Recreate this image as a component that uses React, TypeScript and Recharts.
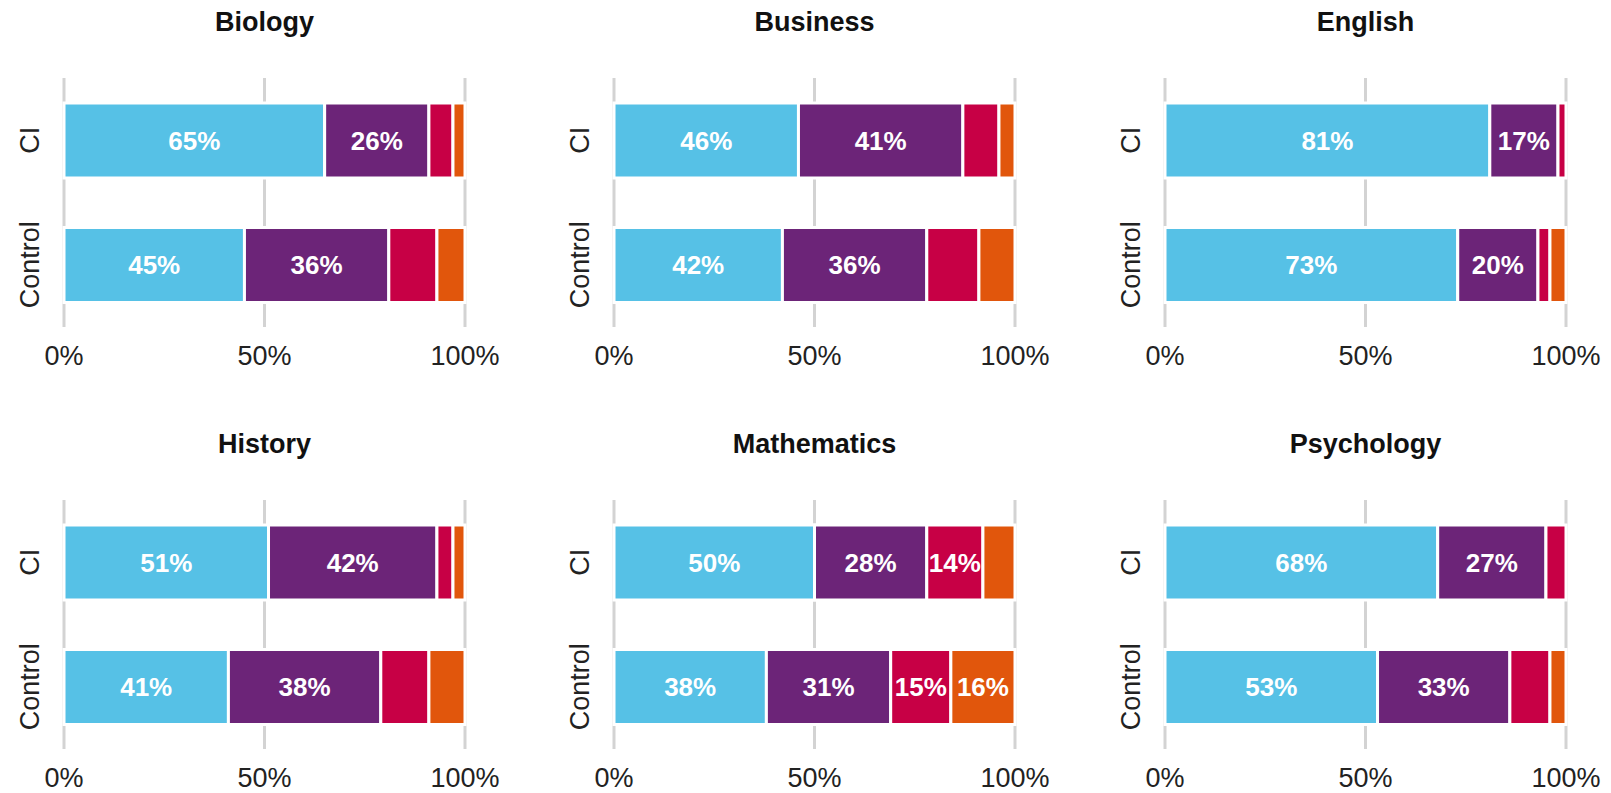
import React from 'react';
import { BarChart, Bar, XAxis, YAxis, CartesianGrid, LabelList } from 'recharts';

// subjects (one panel each) and groups (one bar each)
const subjects = ['Biology', 'Business', 'English', 'History', 'Mathematics', 'Psychology'];
const groups = ['CI', 'Control'];

// share in each response level, per subject as [CI, Control]
const level1 = [[65, 45], [46, 42], [81, 73], [51, 41], [50, 38], [68, 53]];
const level2 = [[26, 36], [41, 36], [17, 20], [42, 38], [28, 31], [27, 33]];
const level3 = [[6, 12], [9, 13], [2, 3], [4, 12], [14, 15], [5, 10]];
const level4 = [[3, 7], [4, 9], [0, 4], [3, 9], [8, 16], [0, 4]];

const xTicks = [0, 50, 100];

const colors = {
  l1: '#56C1E6',
  l2: '#6C2478',
  l3: '#C70045',
  l4: '#E1560C',
  grid: '#D3D3D3',
};

const font = '"Liberation Sans", Arial, sans-serif';

// only the wider segments carry a label
const renderLabel = (props: any) => {
  const { x, y, width, height, value } = props;
  if (value < 14) return null;
  return (
    <text
      x={x + width / 2}
      y={y + height / 2}
      textAnchor="middle"
      dominantBaseline="central"
      fill="#fff"
      fontWeight="bold"
      fontSize={26}
      fontFamily={font}
    >
      {value}%
    </text>
  );
};

const GroupTick = (props: any) => {
  const { y, payload } = props;
  const x = 30;
  return (
    <text
      x={x}
      y={y}
      transform={`rotate(-90 ${x} ${y})`}
      textAnchor="middle"
      dominantBaseline="central"
      fontSize={27}
      fontFamily={font}
      fill="#222"
    >
      {payload.value}
    </text>
  );
};

function Panel({ index, left, top }: { index: number; left: number; top: number }) {
  const data = groups.map((g, i) => ({
    group: g,
    l1: level1[index][i],
    l2: level2[index][i],
    l3: level3[index][i],
    l4: level4[index][i],
  }));
  return (
    <div style={{ position: 'absolute', left, top, width: 520, height: 400 }}>
      <div
        style={{
          position: 'absolute',
          left: 64,
          width: 401,
          top: 6,
          lineHeight: '32px',
          textAlign: 'center',
          fontFamily: font,
          fontWeight: 'bold',
          fontSize: 27,
          color: '#111',
        }}
      >
        {subjects[index]}
      </div>
      <div style={{ position: 'absolute', left: 0, top: 50 }}>
        <BarChart
          width={505}
          height={337}
          data={data}
          layout="vertical"
          margin={{ top: 28, right: 40, bottom: 0, left: 14 }}
          barCategoryGap={25}
        >
          <CartesianGrid horizontal={false} stroke={colors.grid} strokeWidth={3} />
          <XAxis
            type="number"
            domain={[0, 100]}
            ticks={xTicks}
            tickFormatter={(v) => `${v}%`}
            axisLine={false}
            tickLine={false}
            tickMargin={13}
            height={60}
            tick={{ fontSize: 27, fontFamily: font, fill: '#222' }}
          />
          <YAxis
            type="category"
            dataKey="group"
            axisLine={false}
            tickLine={false}
            width={50}
            tick={<GroupTick />}
          />
          <Bar dataKey="l1" stackId="s" fill={colors.l1} stroke="#fff" strokeWidth={3} isAnimationActive={false}>
            <LabelList dataKey="l1" content={renderLabel} />
          </Bar>
          <Bar dataKey="l2" stackId="s" fill={colors.l2} stroke="#fff" strokeWidth={3} isAnimationActive={false}>
            <LabelList dataKey="l2" content={renderLabel} />
          </Bar>
          <Bar dataKey="l3" stackId="s" fill={colors.l3} stroke="#fff" strokeWidth={3} isAnimationActive={false}>
            <LabelList dataKey="l3" content={renderLabel} />
          </Bar>
          <Bar dataKey="l4" stackId="s" fill={colors.l4} stroke="#fff" strokeWidth={3} isAnimationActive={false}>
            <LabelList dataKey="l4" content={renderLabel} />
          </Bar>
        </BarChart>
      </div>
    </div>
  );
}

export default function App() {
  const colLefts = [0, 550, 1101];
  const rowTops = [0, 422];
  return (
    <div style={{ position: 'absolute', left: 0, top: 0, width: 1611, height: 793, background: '#fff' }}>
      {subjects.map((s, i) => (
        <Panel key={s} index={i} left={colLefts[i % 3]} top={rowTops[Math.floor(i / 3)]} />
      ))}
    </div>
  );
}
